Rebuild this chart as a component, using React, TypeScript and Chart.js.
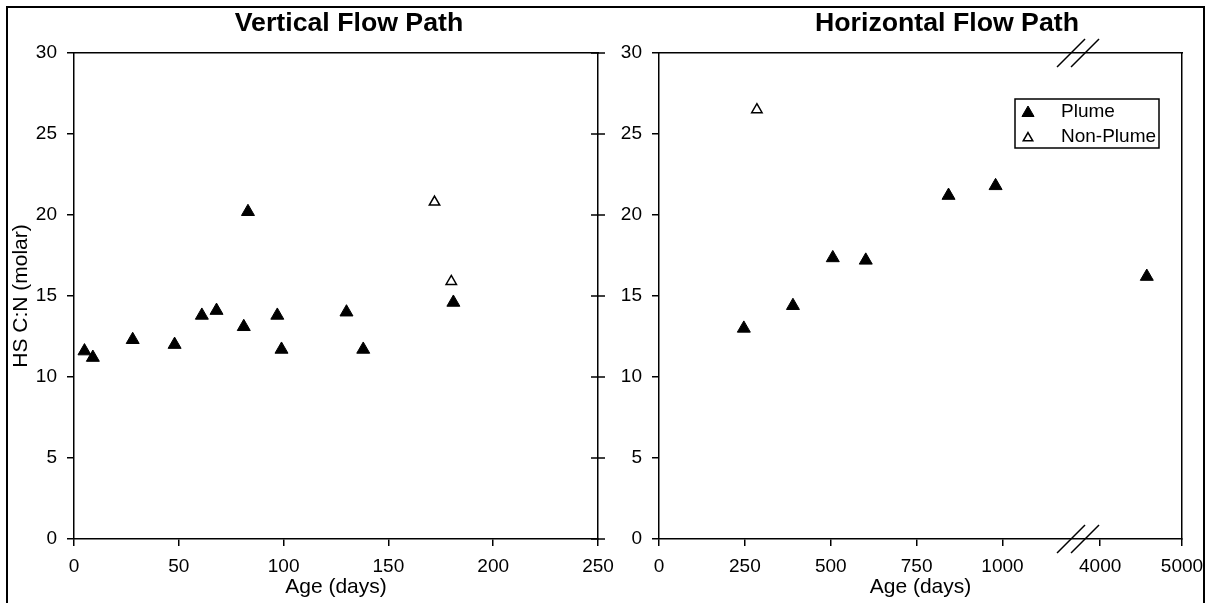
import React, { useEffect, useRef } from "react";
import { Chart, registerables } from "chart.js";

Chart.register(...registerables);

const FONT = "Arial, 'Liberation Sans', Helvetica, sans-serif";
const BLACK = "#000";

// Vertical flow path
const vertPlumeDays = [5, 9, 28, 48, 61, 68, 81, 83, 97, 99, 130, 138, 181];
const vertPlumeCN = [11.6, 11.2, 12.3, 12.0, 13.8, 14.1, 13.1, 20.2, 13.8, 11.7, 14.0, 11.7, 14.6];
const vertNonPlumeDays = [172, 180];
const vertNonPlumeCN = [20.8, 15.9];
const vertTickDays = [0, 50, 100, 150, 200, 250];

// Horizontal flow path
const horzPlumeDays = [247, 390, 506, 602, 843, 980, 4570];
const horzPlumeCN = [13.0, 14.4, 17.35, 17.2, 21.2, 21.8, 16.2];
const horzNonPlumeDays = [285];
const horzNonPlumeCN = [26.5];
const horzTickDays = [0, 250, 500, 750, 1000, 4000, 5000];

const cnTicks = [0, 5, 10, 15, 20, 25, 30];

// Broken x axis of the horizontal panel: days above breakTo are compressed
const breakFrom = 1220;
const breakTo = 3730;
const upperCompression = 82 / 344;
const toAxis = (d: number) => (d <= breakFrom ? d : breakFrom + (d - breakTo) * upperCompression);

const tickFont = { family: FONT, size: 19 };
const axisTitleFont = { family: FONT, size: 21 };

const pairs = (xs: number[], ys: number[], map = (v: number) => v) =>
  xs.map((x, i) => ({ x: map(x), y: ys[i] }));

function plumeSet(data: { x: number; y: number }[]) {
  return {
    label: "Plume",
    data,
    pointStyle: "triangle",
    pointRadius: 7.5,
    pointHoverRadius: 7.5,
    backgroundColor: BLACK,
    borderColor: BLACK,
    borderWidth: 1,
    showLine: false,
  };
}

function nonPlumeSet(data: { x: number; y: number }[]) {
  return {
    label: "Non-Plume",
    data,
    pointStyle: "triangle",
    pointRadius: 6,
    pointHoverRadius: 6,
    backgroundColor: "#fff",
    borderColor: BLACK,
    borderWidth: 1.5,
    showLine: false,
  };
}

const axisLine = { display: true, color: BLACK, width: 1.5 };
const outerTicks = { drawOnChartArea: false, drawTicks: true, tickLength: 7, color: BLACK, lineWidth: 1.5 };

function yScale(showTitle: boolean, width: number) {
  return {
    type: "linear",
    position: "left",
    min: 0,
    max: 30,
    afterBuildTicks: (s: any) => {
      s.ticks = cnTicks.map((v) => ({ value: v }));
    },
    afterFit: (s: any) => {
      s.width = width;
      s.paddingTop = 0;
      s.paddingBottom = 0;
    },
    ticks: { font: tickFont, color: BLACK, padding: 10, autoSkip: false },
    grid: outerTicks,
    border: axisLine,
    title: {
      display: showTitle,
      text: "HS C:N (molar)",
      font: axisTitleFont,
      color: BLACK,
      padding: { top: 9, bottom: 0 },
    },
  };
}

function xScale(max: number, values: number[], labels: string[]) {
  return {
    type: "linear",
    position: "bottom",
    min: 0,
    max,
    afterBuildTicks: (s: any) => {
      s.ticks = values.map((v) => ({ value: v }));
    },
    afterFit: (s: any) => {
      s.height = 64;
      // labels may overhang the plot edges; keep the plot area fixed
      s.paddingLeft = 0;
      s.paddingRight = 0;
    },
    ticks: {
      font: tickFont,
      color: BLACK,
      padding: 9,
      autoSkip: false,
      maxRotation: 0,
      callback: (_v: any, i: number) => labels[i],
    },
    grid: outerTicks,
    border: axisLine,
    title: {
      display: true,
      text: "Age (days)",
      font: axisTitleFont,
      color: BLACK,
      padding: { top: 0, bottom: 3 },
    },
  };
}

// Plain frame lines on the top and right of each plot area
const frameTop = {
  type: "linear",
  position: "top",
  min: 0,
  max: 1,
  ticks: { display: false },
  grid: { drawOnChartArea: false, drawTicks: false },
  border: axisLine,
  afterFit: (s: any) => {
    s.height = 0;
    s.paddingLeft = 0;
    s.paddingRight = 0;
  },
};
const frameRight = {
  type: "linear",
  position: "right",
  min: 0,
  max: 1,
  ticks: { display: false },
  grid: { drawOnChartArea: false, drawTicks: false },
  border: axisLine,
  afterFit: (s: any) => {
    s.width = 0;
    s.paddingTop = 0;
    s.paddingBottom = 0;
  },
};

// Tick marks crossing the right frame of the vertical panel
const crossingRightTicks = {
  id: "crossingRightTicks",
  afterDraw(chart: any) {
    const { ctx, chartArea } = chart;
    const y = chart.scales.y;
    ctx.save();
    ctx.strokeStyle = BLACK;
    ctx.lineWidth = 1.5;
    for (const t of y.ticks) {
      const py = y.getPixelForValue(t.value);
      ctx.beginPath();
      ctx.moveTo(chartArea.right - 7, py);
      ctx.lineTo(chartArea.right + 7, py);
      ctx.stroke();
    }
    ctx.restore();
  },
};

// Double slashes marking the x-axis break
const axisBreakMarks = {
  id: "axisBreakMarks",
  afterDraw(chart: any) {
    const { ctx, chartArea } = chart;
    const cx = chart.scales.x.getPixelForValue(breakFrom);
    ctx.save();
    ctx.strokeStyle = BLACK;
    ctx.lineWidth = 1.5;
    for (const cy of [chartArea.top, chartArea.bottom]) {
      for (const dx of [-7, 7]) {
        ctx.beginPath();
        ctx.moveTo(cx + dx - 14, cy + 14);
        ctx.lineTo(cx + dx + 14, cy - 14);
        ctx.stroke();
      }
    }
    ctx.restore();
  },
};

function drawTriangle(ctx: CanvasRenderingContext2D, x: number, y: number, r: number, filled: boolean) {
  ctx.beginPath();
  let rad = 0;
  ctx.moveTo(x + Math.sin(rad) * r, y - Math.cos(rad) * r);
  rad += (2 * Math.PI) / 3;
  ctx.lineTo(x + Math.sin(rad) * r, y - Math.cos(rad) * r);
  rad += (2 * Math.PI) / 3;
  ctx.lineTo(x + Math.sin(rad) * r, y - Math.cos(rad) * r);
  ctx.closePath();
  ctx.fillStyle = filled ? BLACK : "#fff";
  ctx.fill();
  ctx.strokeStyle = BLACK;
  ctx.lineWidth = filled ? 1 : 1.5;
  ctx.stroke();
}

// Boxed legend inside the horizontal panel
const boxedLegend = {
  id: "boxedLegend",
  afterDraw(chart: any) {
    const { ctx, chartArea } = chart;
    const w = 144;
    const h = 49;
    const left = chartArea.right - 23 - w;
    const top = chartArea.top + 46;
    ctx.save();
    ctx.fillStyle = "#fff";
    ctx.fillRect(left, top, w, h);
    ctx.strokeStyle = BLACK;
    ctx.lineWidth = 1.5;
    ctx.strokeRect(left, top, w, h);
    chart.data.datasets.forEach((ds: any, i: number) => {
      const y = top + 13 + i * 25;
      drawTriangle(ctx, left + 13, y + 1, i === 0 ? 7 : 5.5, i === 0);
      ctx.fillStyle = BLACK;
      ctx.font = `19px ${FONT}`;
      ctx.textBaseline = "middle";
      ctx.textAlign = "left";
      ctx.fillText(ds.label, left + 46, y);
    });
    ctx.restore();
  },
};

const commonPlugins = {
  legend: { display: false },
  tooltip: { enabled: false },
  title: { display: false },
};

function verticalConfig(): any {
  return {
    type: "scatter",
    data: {
      datasets: [
        plumeSet(pairs(vertPlumeDays, vertPlumeCN)),
        nonPlumeSet(pairs(vertNonPlumeDays, vertNonPlumeCN)),
      ],
    },
    options: {
      responsive: false,
      animation: false,
      devicePixelRatio: 1,
      layout: { padding: { top: 53, right: 17, bottom: 0, left: 0 } },
      plugins: commonPlugins,
      scales: {
        x: xScale(250, vertTickDays, vertTickDays.map(String)),
        y: yScale(true, 74),
        xTop: frameTop,
        yRight: frameRight,
      },
    },
    plugins: [crossingRightTicks],
  };
}

function horizontalConfig(): any {
  return {
    type: "scatter",
    data: {
      datasets: [
        plumeSet(pairs(horzPlumeDays, horzPlumeCN, toAxis)),
        nonPlumeSet(pairs(horzNonPlumeDays, horzNonPlumeCN, toAxis)),
      ],
    },
    options: {
      responsive: false,
      animation: false,
      devicePixelRatio: 1,
      layout: { padding: { top: 53, right: 33, bottom: 0, left: 0 } },
      plugins: commonPlugins,
      scales: {
        x: xScale(toAxis(5000), horzTickDays.map(toAxis), horzTickDays.map(String)),
        y: yScale(false, 59),
        xTop: frameTop,
        yRight: frameRight,
      },
    },
    plugins: [axisBreakMarks, boxedLegend],
  };
}

const titleStyle = (center: number): React.CSSProperties => ({
  position: "absolute",
  left: center - 200,
  top: 7,
  width: 400,
  textAlign: "center",
  font: `bold 26.7px ${FONT}`,
  lineHeight: "30px",
  color: BLACK,
});

export default function App() {
  const leftRef = useRef<HTMLCanvasElement>(null);
  const rightRef = useRef<HTMLCanvasElement>(null);

  useEffect(() => {
    const left = new Chart(leftRef.current as HTMLCanvasElement, verticalConfig());
    const right = new Chart(rightRef.current as HTMLCanvasElement, horizontalConfig());
    return () => {
      left.destroy();
      right.destroy();
    };
  }, []);

  return (
    <div
      style={{
        position: "fixed",
        left: 0,
        top: 0,
        width: 1215,
        height: 603,
        background: "#fff",
        overflow: "hidden",
      }}
    >
      <div
        style={{
          position: "absolute",
          left: 6,
          top: 6,
          width: 1195,
          height: 700,
          border: "2px solid #000",
        }}
      />
      <canvas ref={leftRef} width={615} height={603} style={{ position: "absolute", left: 0, top: 0 }} />
      <canvas ref={rightRef} width={615} height={603} style={{ position: "absolute", left: 600, top: 0 }} />
      <div style={titleStyle(349)}>Vertical Flow Path</div>
      <div style={titleStyle(947)}>Horizontal Flow Path</div>
    </div>
  );
}
